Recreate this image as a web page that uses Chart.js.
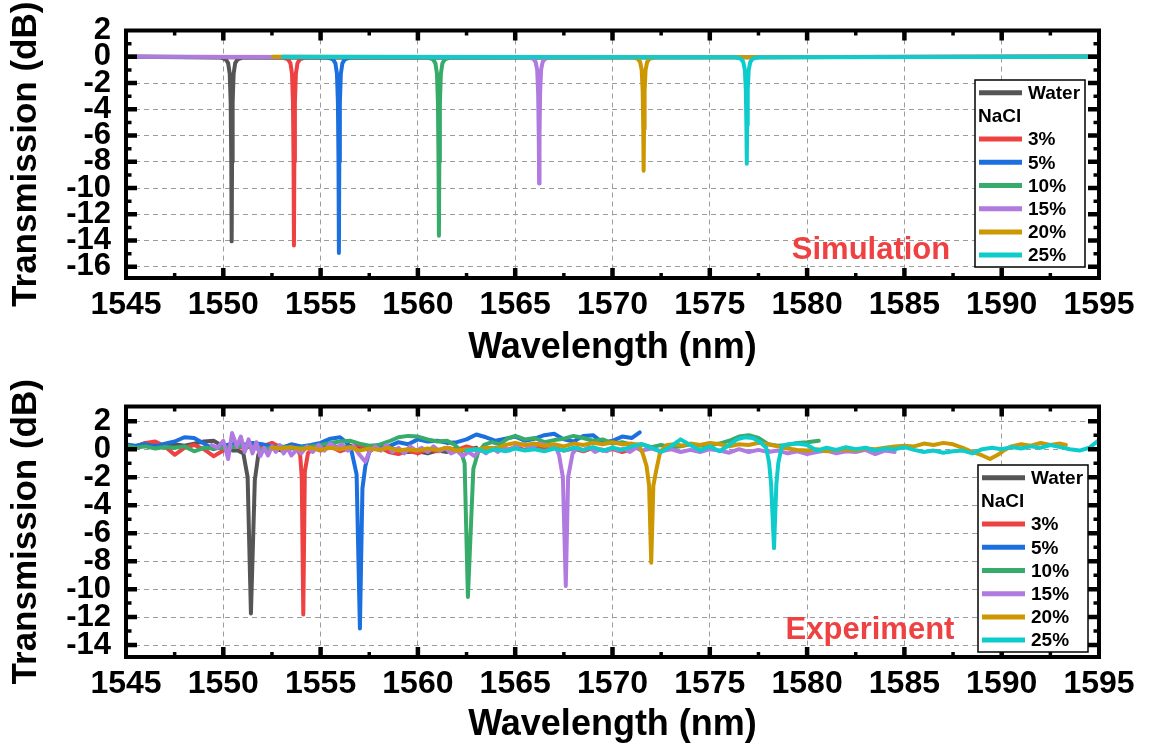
<!DOCTYPE html>
<html>
<head>
<meta charset="utf-8">
<title>Transmission spectra</title>
<script src="https://cdn.jsdelivr.net/npm/chart.js@4.4.1/dist/chart.umd.min.js"></script>
<style>
  html, body { margin: 0; padding: 0; background: #fff; }
  #wrap { position: relative; width: 1152px; height: 753px; overflow: hidden; background: #fff; }
  canvas { position: absolute; left: 0; }
</style>
</head>
<body>
<div id="wrap">
  <canvas id="simChart" width="1152" height="376" style="top:0;width:1152px;height:376px"></canvas>
  <canvas id="expChart" width="1152" height="377" style="top:376px;width:1152px;height:377px"></canvas>
</div>
<script>
// ---- series labels and colours ----
const seriesLabels = ['Water', '3%', '5%', '10%', '15%', '20%', '25%'];
const seriesColors = ['#555555', '#ee4242', '#1b6fdf', '#37ab69', '#b07ae0', '#cc9700', '#0fcccc'];

// ---- tick labels ----
const xTicks = [1545, 1550, 1555, 1560, 1565, 1570, 1575, 1580, 1585, 1590, 1595];
const yTicksSim = [2, 0, -2, -4, -6, -8, -10, -12, -14, -16];
const yTicksExp = [2, 0, -2, -4, -6, -8, -10, -12, -14];

// ---- simulated spectra: [wavelength (nm), transmission (dB)] ----
const simWater = [[1545,0],[1549.83,-0.05],[1550.13,-0.2],[1550.25,-0.5],[1550.33,-1.3],[1550.38,-3.5],[1550.41,-8],[1550.43,-14.06],[1550.45,-8],[1550.48,-3.5],[1550.53,-1.3],[1550.61,-0.5],[1550.73,-0.2],[1551.03,-0.05],[1595,0]];
const sim3 = [[1545,0],[1553.03,-0.05],[1553.33,-0.2],[1553.45,-0.5],[1553.53,-1.3],[1553.58,-3.5],[1553.61,-8],[1553.63,-14.38],[1553.65,-8],[1553.68,-3.5],[1553.73,-1.3],[1553.81,-0.5],[1553.93,-0.2],[1554.23,-0.05],[1595,0]];
const sim5 = [[1545,0],[1555.34,-0.05],[1555.64,-0.2],[1555.76,-0.5],[1555.84,-1.3],[1555.89,-3.5],[1555.92,-8],[1555.94,-14.95],[1555.96,-8],[1555.99,-3.5],[1556.04,-1.3],[1556.12,-0.5],[1556.24,-0.2],[1556.54,-0.05],[1595,0]];
const sim10 = [[1545,0],[1560.48,-0.05],[1560.78,-0.2],[1560.9,-0.5],[1560.98,-1.3],[1561.03,-3.5],[1561.06,-8],[1561.08,-13.63],[1561.1,-8],[1561.13,-3.5],[1561.18,-1.3],[1561.26,-0.5],[1561.38,-0.2],[1561.68,-0.05],[1595,0]];
const sim15 = [[1545,0],[1565.63,-0.04],[1565.93,-0.15],[1566.05,-0.4],[1566.13,-1.0],[1566.18,-2.8],[1566.21,-6],[1566.23,-9.65],[1566.25,-6],[1566.28,-2.8],[1566.33,-1.0],[1566.41,-0.4],[1566.53,-0.15],[1566.83,-0.04],[1595,0]];
const sim20 = [[1552.55,0],[1571.0,-0.04],[1571.3,-0.15],[1571.42,-0.4],[1571.5,-1.0],[1571.55,-2.6],[1571.58,-5.5],[1571.6,-8.68],[1571.62,-5.5],[1571.65,-2.6],[1571.7,-1.0],[1571.78,-0.4],[1571.9,-0.15],[1572.2,-0.04],[1595,0]];
const sim25 = [[1553.07,0],[1576.3,-0.04],[1576.6,-0.15],[1576.72,-0.4],[1576.8,-1.0],[1576.85,-2.5],[1576.88,-5.2],[1576.9,-8.15],[1576.92,-5.2],[1576.95,-2.5],[1577.0,-1.0],[1577.08,-0.4],[1577.2,-0.15],[1577.5,-0.04],[1595,0]];

// ---- measured spectra: [wavelength (nm), transmission (dB)] ----
const expWater = [[1545.0,0.35],[1545.5,0.2],[1546.0,0.45],[1546.5,0.3],[1547.0,0.15],[1547.5,0.35],[1548.0,0.25],[1548.5,0.4],[1549.0,0.55],[1549.5,0.6],[1550.0,0.2],[1550.5,-0.1],[1550.75,-0.1],[1551.03,-0.3],[1551.25,-2.0],[1551.42,-11.74],[1551.62,-2.2],[1551.8,-0.4],[1552.05,0.0],[1552.5,0.1],[1553.0,-0.1],[1553.5,0.15],[1554.0,0.0],[1554.5,0.2],[1555.0,0.05],[1555.5,0.3],[1556.0,0.1],[1556.5,0.25],[1557.0,0.0],[1557.5,0.2],[1558.0,-0.05],[1558.5,0.15],[1559.0,-0.1],[1559.5,-0.2],[1560.0,-0.15],[1560.5,-0.3],[1561.0,-0.1],[1561.5,-0.2],[1562.0,0.05],[1562.5,-0.1],[1563.0,0.1]];
const exp3 = [[1545.0,0.2],[1545.5,0.05],[1546.0,0.45],[1546.5,0.55],[1547.0,0.2],[1547.5,-0.4],[1548.0,0.1],[1548.5,0.3],[1549.0,0.0],[1549.5,-0.5],[1550.0,-0.1],[1550.5,0.3],[1551.0,0.1],[1551.5,0.4],[1552.0,0.2],[1552.5,0.45],[1553.0,0.1],[1553.5,0.3],[1553.8,0.0],[1553.95,-0.4],[1554.03,-2.0],[1554.11,-11.82],[1554.19,-1.6],[1554.35,-0.3],[1554.6,0.1],[1555.0,-0.1],[1555.5,0.2],[1556.0,-0.15],[1556.5,0.1],[1557.0,0.3],[1557.5,-0.1],[1558.0,0.15],[1558.5,-0.2],[1559.0,-0.35],[1559.5,-0.1],[1560.0,-0.3],[1560.5,0.0],[1561.0,-0.15],[1561.5,0.1],[1562.0,-0.05],[1562.5,0.2],[1563.0,0.0],[1563.5,-0.2],[1564.0,0.1],[1564.5,-0.1],[1565.0,0.15],[1565.5,-0.05],[1566.0,0.2],[1566.5,0.0],[1567.0,0.1],[1567.5,-0.1],[1568.0,0.05],[1568.5,-0.15],[1569.0,0.1],[1569.5,-0.1],[1570.0,0.0],[1570.5,-0.2],[1571.0,0.0]];
const exp5 = [[1545.0,0.3],[1545.5,0.25],[1546.0,0.35],[1546.5,0.2],[1547.0,0.4],[1547.5,0.55],[1548.0,0.85],[1548.5,0.8],[1549.0,0.4],[1549.5,0.0],[1550.0,0.25],[1550.5,0.4],[1551.0,0.3],[1551.5,0.45],[1552.0,0.35],[1552.5,0.2],[1553.0,0.1],[1553.5,0.35],[1554.0,0.2],[1554.5,0.3],[1555.0,0.45],[1555.5,0.75],[1556.0,0.85],[1556.4,0.4],[1556.6,-0.2],[1556.85,-1.8],[1557.02,-12.81],[1557.15,-2.8],[1557.3,-1.2],[1557.5,-0.2],[1557.8,0.2],[1558.0,0.3],[1558.5,0.2],[1559.0,0.5],[1559.5,0.35],[1560.0,0.7],[1560.5,0.55],[1561.0,0.6],[1561.5,0.45],[1562.0,0.5],[1562.5,0.7],[1563.0,1.05],[1563.5,0.85],[1564.0,0.6],[1564.5,0.75],[1565.0,0.9],[1565.5,0.6],[1566.0,0.75],[1566.5,1.0],[1567.0,1.1],[1567.5,0.7],[1568.0,0.55],[1568.5,0.95],[1569.0,1.0],[1569.5,0.45],[1570.0,0.6],[1570.5,0.9],[1571.0,0.8],[1571.4,1.2]];
const exp10 = [[1545.0,0.25],[1545.5,0.1],[1546.0,0.2],[1546.5,0.05],[1547.0,0.15],[1547.5,0.1],[1548.0,0.2],[1548.5,-0.15],[1549.0,0.1],[1549.5,0.05],[1550.0,0.1],[1550.5,0.15],[1551.0,0.25],[1551.5,0.1],[1552.0,0.0],[1552.5,0.1],[1553.0,0.2],[1553.5,0.05],[1554.0,0.1],[1554.5,0.2],[1555.0,0.3],[1555.5,0.45],[1556.0,0.55],[1556.5,0.6],[1557.0,0.4],[1557.5,0.25],[1558.0,0.3],[1558.5,0.55],[1559.0,0.85],[1559.5,0.95],[1560.0,0.9],[1560.5,0.7],[1561.0,0.55],[1561.5,0.6],[1561.9,0.3],[1562.2,-0.1],[1562.4,-1.0],[1562.57,-10.56],[1562.85,-1.4],[1563.1,-0.2],[1563.4,0.3],[1563.8,0.5],[1564.2,0.35],[1564.6,0.75],[1565.0,0.95],[1565.5,0.7],[1566.0,0.8],[1566.5,0.5],[1567.0,0.65],[1567.5,0.75],[1568.0,0.95],[1568.5,0.8],[1569.0,0.6],[1569.5,0.7],[1570.0,0.4],[1570.5,0.5],[1571.0,0.3],[1571.5,0.35],[1572.0,0.15],[1572.5,0.3],[1573.0,0.1],[1573.5,0.2],[1574.0,0.35],[1574.5,0.25],[1575.0,0.3],[1575.5,0.4],[1576.0,0.6],[1576.5,0.9],[1577.0,1.0],[1577.5,0.8],[1578.0,0.35],[1578.5,0.25],[1579.0,0.3],[1579.5,0.45],[1580.0,0.5],[1580.6,0.6]];
const exp15 = [[1549.4,0.3],[1549.7,0.1],[1550.0,0.6],[1550.25,-0.7],[1550.45,1.15],[1550.7,0.2],[1550.9,0.9],[1551.1,-0.2],[1551.3,0.7],[1551.5,-0.3],[1551.7,0.5],[1551.9,-0.5],[1552.1,0.1],[1552.3,-0.45],[1552.5,0.2],[1552.7,-0.2],[1552.9,0.3],[1553.1,-0.3],[1553.3,0.1],[1553.5,-0.45],[1553.8,0.0],[1554.0,-0.3],[1554.3,0.2],[1554.6,-0.2],[1554.9,0.3],[1555.2,-0.1],[1555.5,0.4],[1555.8,0.1],[1556.1,0.35],[1556.4,-0.1],[1556.7,0.2],[1557.0,-0.4],[1557.3,-0.9],[1557.5,-0.2],[1557.8,0.2],[1558.1,-0.1],[1558.4,0.3],[1558.7,-0.2],[1559.0,0.1],[1559.3,-0.3],[1559.6,0.2],[1559.9,-0.1],[1560.2,0.1],[1560.5,-0.2],[1560.8,0.2],[1561.1,-0.15],[1561.4,0.1],[1561.7,-0.3],[1562.0,-0.1],[1562.3,-0.5],[1562.6,-0.2],[1562.9,-0.5],[1563.2,0.0],[1563.5,-0.3],[1563.8,0.1],[1564.1,-0.2],[1564.4,0.15],[1564.7,-0.1],[1565.0,0.2],[1565.4,0.35],[1565.8,0.1],[1566.2,0.4],[1566.6,0.3],[1566.9,0.15],[1567.1,0.1],[1567.25,-0.4],[1567.45,-2.0],[1567.6,-9.78],[1567.72,-2.0],[1567.95,-0.3],[1568.2,0.1],[1568.5,-0.1],[1568.8,0.15],[1569.1,-0.2],[1569.4,0.0],[1569.7,-0.15],[1570.0,0.1],[1570.3,-0.1],[1570.6,0.05],[1570.9,-0.2],[1571.2,0.1],[1571.5,-0.1],[1572.0,0.05],[1572.5,-0.15],[1573.0,0.0],[1573.5,-0.2],[1574.0,-0.05],[1574.5,-0.2],[1575.0,0.0],[1575.5,-0.1],[1576.0,-0.25],[1576.5,0.0],[1577.0,-0.2],[1577.5,-0.05],[1578.0,-0.2],[1578.5,-0.1],[1579.0,-0.3],[1579.5,-0.15],[1580.0,-0.35],[1580.5,-0.2],[1581.0,-0.1],[1581.5,-0.3],[1582.0,-0.15],[1582.5,-0.2],[1583.0,-0.05],[1583.5,-0.35],[1584.0,-0.1],[1584.5,-0.2]];
const exp20 = [[1552.5,0.1],[1553.0,0.05],[1553.5,0.15],[1554.0,0.0],[1554.5,0.1],[1555.0,-0.05],[1555.5,0.1],[1556.0,0.0],[1556.5,0.15],[1557.0,-0.1],[1557.5,0.05],[1558.0,-0.05],[1558.5,0.1],[1559.0,-0.1],[1559.5,0.0],[1560.0,-0.1],[1560.5,0.05],[1561.0,-0.05],[1561.5,0.1],[1562.0,-0.1],[1562.5,0.0],[1563.0,-0.05],[1563.5,0.1],[1564.0,0.05],[1564.5,0.3],[1565.0,0.45],[1565.5,0.3],[1566.0,0.4],[1566.5,0.25],[1567.0,0.35],[1567.5,0.2],[1568.0,0.4],[1568.5,0.3],[1569.0,0.45],[1569.5,0.35],[1570.0,0.5],[1570.5,0.35],[1571.0,0.4],[1571.35,0.3],[1571.55,-0.3],[1571.75,-1.2],[1571.88,-2.6],[1571.99,-8.12],[1572.1,-2.6],[1572.25,-1.5],[1572.45,-0.2],[1572.8,0.3],[1573.2,0.35],[1573.6,0.25],[1574.0,0.4],[1574.5,0.3],[1575.0,0.45],[1575.5,0.35],[1576.0,0.2],[1576.5,0.35],[1577.0,0.3],[1577.5,0.45],[1578.0,0.35],[1578.5,0.2],[1579.0,0.05],[1579.5,-0.05],[1580.0,-0.1],[1580.5,0.0],[1581.0,-0.15],[1581.5,-0.05],[1582.0,0.0],[1582.5,-0.1],[1583.0,0.05],[1583.5,0.0],[1584.0,0.1],[1584.5,0.2],[1585.0,0.25],[1585.5,0.2],[1586.0,0.4],[1586.5,0.3],[1587.0,0.45],[1587.5,0.35],[1588.0,0.1],[1588.5,-0.2],[1589.0,-0.45],[1589.4,-0.7],[1589.8,-0.4],[1590.1,-0.1],[1590.5,0.2],[1591.0,0.35],[1591.5,0.25],[1592.0,0.45],[1592.5,0.3],[1593.0,0.4],[1593.3,0.3]];
const exp25 = [[1562.5,-0.1],[1563.0,0.0],[1563.5,-0.2],[1564.0,0.0],[1564.5,-0.15],[1565.0,0.05],[1565.5,-0.1],[1566.0,0.0],[1566.5,-0.15],[1567.0,0.05],[1567.5,-0.1],[1568.0,0.1],[1568.5,-0.05],[1569.0,0.15],[1569.5,-0.1],[1570.0,0.1],[1570.5,-0.05],[1571.0,0.2],[1571.5,0.35],[1572.0,0.1],[1572.5,-0.2],[1573.0,0.2],[1573.5,0.7],[1574.0,0.3],[1574.5,-0.1],[1575.0,0.2],[1575.5,-0.15],[1576.0,0.3],[1576.4,0.7],[1576.8,0.85],[1577.2,0.8],[1577.6,0.5],[1577.9,0.1],[1578.05,-1.0],[1578.15,-2.5],[1578.3,-7.07],[1578.42,-2.5],[1578.52,-1.0],[1578.7,0.2],[1579.0,0.35],[1579.5,0.4],[1580.0,0.3],[1580.5,-0.1],[1581.0,0.1],[1581.5,-0.05],[1582.0,0.15],[1582.5,0.0],[1583.0,0.1],[1583.5,-0.1],[1584.0,0.05],[1584.5,0.0],[1585.0,0.15],[1585.5,-0.05],[1586.0,-0.2],[1586.5,-0.1],[1587.0,-0.25],[1587.5,-0.15],[1588.0,-0.1],[1588.5,-0.3],[1589.0,0.0],[1589.5,0.1],[1590.0,0.0],[1590.5,0.15],[1591.0,0.05],[1591.5,0.2],[1592.0,0.1],[1592.5,0.3],[1593.0,0.15],[1593.5,0.0],[1594.0,-0.1],[1594.5,0.1],[1595.0,0.65]];

const simSeries = [simWater, sim3, sim5, sim10, sim15, sim20, sim25];
const expSeries = [expWater, exp3, exp5, exp10, exp15, exp20, exp25];

// ---- fonts ----
const FAMILY = '"Liberation Sans", Arial, Helvetica, sans-serif';
const xTickFont = { family: FAMILY, size: 32, weight: 'bold', lineHeight: 1 };
const yTickFont = { family: FAMILY, size: 31, weight: 'bold', lineHeight: 1 };
const xTitleFont = { family: FAMILY, size: 36, weight: 'bold', lineHeight: 1 };
const yTitleFont = { family: FAMILY, size: 35, weight: 'bold', lineHeight: 1 };

// Frame with inward major/minor ticks on all four sides, the inset legend and the panel tag.
const framePlugin = {
  id: 'framePlugin',
  afterDatasetsDraw(chart, args, opts) {
    const { ctx, chartArea: a } = chart;
    const xs = chart.scales.x, ys = chart.scales.y;
    ctx.save();
    ctx.strokeStyle = '#000';
    ctx.lineCap = 'butt';

    // x ticks (major every 5 nm, minor every 2.5 nm)
    for (let v = xs.min; v <= xs.max + 1e-9; v += 2.5) {
      const px = xs.getPixelForValue(v);
      if (px < a.left + 3 || px > a.right - 3) continue;
      const major = Math.abs(v / 5 - Math.round(v / 5)) < 1e-6;
      const len = major ? 10 : 5;
      ctx.lineWidth = major ? 4.5 : 3.5;
      ctx.beginPath();
      ctx.moveTo(px, a.bottom); ctx.lineTo(px, a.bottom - len);
      ctx.moveTo(px, a.top); ctx.lineTo(px, a.top + len);
      ctx.stroke();
    }
    // y ticks (major every 2 dB, minor every 1 dB)
    for (let v = Math.ceil(ys.min); v <= Math.floor(ys.max); v += 1) {
      const py = ys.getPixelForValue(v);
      if (py < a.top + 3 || py > a.bottom - 3) continue;
      const major = v % 2 === 0;
      const len = major ? 11 : 5.5;
      ctx.lineWidth = major ? 4.5 : 3.5;
      ctx.beginPath();
      ctx.moveTo(a.left, py); ctx.lineTo(a.left + len, py);
      ctx.moveTo(a.right, py); ctx.lineTo(a.right - len, py);
      ctx.stroke();
    }
    // frame
    ctx.lineWidth = 4;
    ctx.strokeRect(a.left, a.top, a.right - a.left, a.bottom - a.top);

    // inset legend
    const L = opts.legend;
    const bx = a.right - L.right - L.w, by = a.bottom - L.bottom - L.h;
    ctx.fillStyle = '#fff';
    ctx.fillRect(bx, by, L.w, L.h);
    ctx.lineWidth = 1.5;
    ctx.strokeRect(bx, by, L.w, L.h);
    ctx.font = 'bold 19px ' + FAMILY;
    ctx.textBaseline = 'middle';
    ctx.textAlign = 'left';
    const rows = [0, 'NaCl', 1, 2, 3, 4, 5, 6];
    rows.forEach((r, k) => {
      const cy = by + 12.7 + k * 23.2;
      if (typeof r === 'string') {
        ctx.fillStyle = '#000';
        ctx.fillText(r, bx + 3, cy + 1);
        return;
      }
      ctx.strokeStyle = seriesColors[r];
      ctx.lineWidth = 5;
      ctx.beginPath();
      ctx.moveTo(bx + 4, cy); ctx.lineTo(bx + 47, cy);
      ctx.stroke();
      ctx.fillStyle = '#000';
      ctx.fillText(seriesLabels[r], bx + 53, cy + 1);
    });

    // panel tag
    const T = opts.tag;
    ctx.font = 'bold 31px ' + FAMILY;
    ctx.fillStyle = '#ee4242';
    ctx.textAlign = 'center';
    ctx.textBaseline = 'middle';
    ctx.fillText(T.text, a.right - T.dx, a.bottom - T.dy);
    ctx.restore();
  }
};

function makeChart(canvasId, series, yMin, yMax, yTicks, cfg) {
  const n = series.length;
  return new Chart(document.getElementById(canvasId), {
    type: 'line',
    data: {
      datasets: series.map((d, i) => ({
        label: seriesLabels[i],
        data: d,
        borderColor: seriesColors[i],
        backgroundColor: seriesColors[i],
        borderWidth: 4,
        pointRadius: 0,
        pointHoverRadius: 0,
        tension: 0,
        fill: false,
        borderJoinStyle: 'round',
        borderCapStyle: 'round',
        order: n - i
      }))
    },
    options: {
      responsive: false,
      animation: false,
      devicePixelRatio: 1,
      events: [],
      layout: { padding: { top: cfg.padTop, right: 53, left: 0, bottom: 0 } },
      plugins: {
        legend: { display: false },
        tooltip: { enabled: false },
        framePlugin: { legend: cfg.legend, tag: cfg.tag }
      },
      scales: {
        x: {
          type: 'linear',
          min: 1545,
          max: 1595,
          afterBuildTicks: s => { s.ticks = xTicks.map(v => ({ value: v })); },
          afterFit: s => { s.height = cfg.xAxisH; },
          grid: { color: '#9c9c9c', lineWidth: 1, drawTicks: false },
          border: { display: false, dash: [5, 4] },
          ticks: { autoSkip: false, maxRotation: 0, minRotation: 0, padding: 11, color: '#000', font: xTickFont, callback: v => String(v) },
          title: { display: true, text: 'Wavelength (nm)', color: '#000', font: xTitleFont, padding: { top: 0, bottom: 10 } }
        },
        y: {
          type: 'linear',
          min: yMin,
          max: yMax,
          afterBuildTicks: s => { s.ticks = yTicks.map(v => ({ value: v })); },
          afterFit: s => { s.width = 126; },
          grid: { color: '#9c9c9c', lineWidth: 1, drawTicks: false },
          border: { display: false, dash: [5, 4] },
          ticks: { autoSkip: false, padding: 15, color: '#000', font: yTickFont, callback: v => String(v) },
          title: { display: true, text: 'Transmission (dB)', color: '#000', font: yTitleFont, padding: { top: 9, bottom: 0 } }
        }
      }
    },
    plugins: [framePlugin]
  });
}

makeChart('simChart', simSeries, -16.85, 2, yTicksSim, {
  padTop: 27, xAxisH: 98,
  legend: { w: 110, h: 187, right: 14, bottom: 11 },
  tag: { text: 'Simulation', dx: 228, dy: 28 }
});

makeChart('expChart', expSeries, -14.85, 3.05, yTicksExp, {
  padTop: 29, xAxisH: 96,
  legend: { w: 110, h: 187, right: 11, bottom: 5 },
  tag: { text: 'Experiment', dx: 229, dy: 27 }
});
</script>
</body>
</html>
